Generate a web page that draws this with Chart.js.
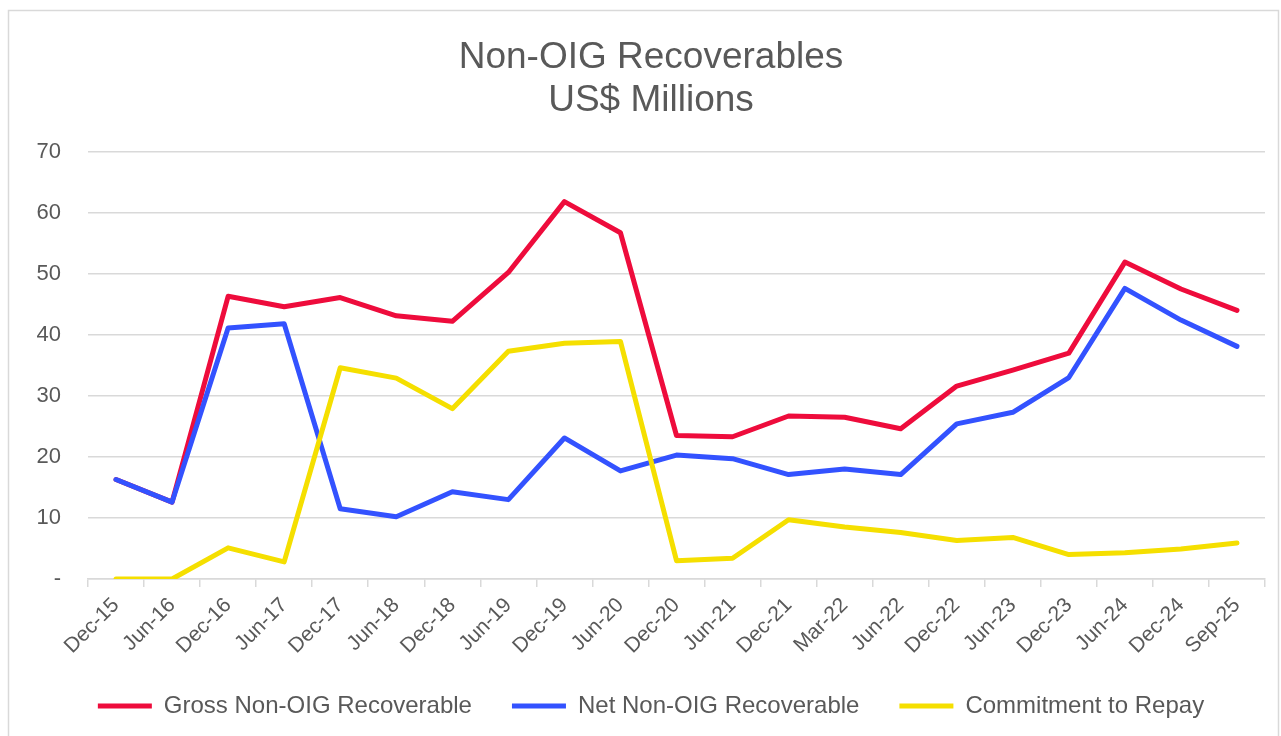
<!DOCTYPE html>
<html lang="en">
<head>
  <meta charset="UTF-8">
  <title>Non-OIG Recoverables</title>
  <script src="https://cdn.jsdelivr.net/npm/chart.js"></script>
  <style>
    /* full window canvas */
    body {
      margin: 0;
      background: #ffffff;
      font-family: "Liberation Sans", Arial, sans-serif;
    }
    .chart-container {
      width: 1281px;
      height: 736px;
    }
  </style>
</head>
<body>

  <div class="chart-container">
    <canvas id="recoverablesChart"></canvas>
  </div>

  <script>
    // Data (US$ millions)
    const periods = ['Dec-15', 'Jun-16', 'Dec-16', 'Jun-17', 'Dec-17', 'Jun-18', 'Dec-18', 'Jun-19',
      'Dec-19', 'Jun-20', 'Dec-20', 'Jun-21', 'Dec-21', 'Mar-22', 'Jun-22', 'Dec-22', 'Jun-23',
      'Dec-23', 'Jun-24', 'Dec-24', 'Sep-25'];
    const grossRecoverable = [16.3, 12.6, 46.3, 44.6, 46.1, 43.1, 42.2, 50.2, 61.8, 56.7, 23.5,
      23.3, 26.7, 26.5, 24.6, 31.6, 34.2, 37.0, 51.9, 47.5, 44.0];
    const netRecoverable = [16.3, 12.6, 41.1, 41.8, 11.5, 10.2, 14.3, 13.0, 23.1, 17.7, 20.3,
      19.7, 17.1, 18.0, 17.1, 25.4, 27.3, 33.0, 47.6, 42.4, 38.1];
    const commitmentToRepay = [0, 0, 5.1, 2.8, 34.6, 32.9, 27.9, 37.3, 38.6, 38.9, 3.0,
      3.4, 9.7, 8.5, 7.6, 6.3, 6.8, 4.0, 4.3, 4.9, 5.9];
    const yTicks = [0, 10, 20, 30, 40, 50, 60, 70];

    const textColor = '#595959';
    const gridColor = '#d9d9d9';
    const fontFamily = '"Liberation Sans", Arial, sans-serif';

    // thin grey frame like the Excel chart border
    const framePlugin = {
      id: 'frame',
      afterDraw(chart) {
        const ctx = chart.ctx;
        ctx.save();
        ctx.strokeStyle = gridColor;
        ctx.lineWidth = 1.5;
        ctx.strokeRect(8.5, 10.5, 1270, 740);
        ctx.restore();
      }
    };

    function series(label, data, color, order) {
      return {
        label: label,
        data: data,
        borderColor: color,
        backgroundColor: color,
        borderWidth: 5,
        borderJoinStyle: 'round',
        borderCapStyle: 'round',
        pointRadius: 0,
        tension: 0,
        order: order
      };
    }

    const ctx = document.getElementById('recoverablesChart').getContext('2d');
    new Chart(ctx, {
      type: 'line',
      data: {
        labels: periods,
        datasets: [
          series('Gross Non-OIG Recoverable', grossRecoverable, '#ee0c3c', 3),
          series('Net Non-OIG Recoverable', netRecoverable, '#3352ff', 2),
          series('Commitment to Repay', commitmentToRepay, '#f5df00', 1)
        ]
      },
      options: {
        responsive: true,
        maintainAspectRatio: false,
        animation: false,
        layout: {
          padding: { left: 37, right: 16, top: 0, bottom: 8 }
        },
        scales: {
          x: {
            offset: true,
            grid: {
              offset: true,
              drawOnChartArea: false,
              drawTicks: true,
              tickLength: 8,
              color: gridColor,
              lineWidth: 1.5
            },
            border: { display: true, color: gridColor, width: 1.5 },
            ticks: {
              color: textColor,
              font: { family: fontFamily, size: 21 },
              minRotation: 45,
              maxRotation: 45,
              autoSkip: false,
              padding: 6
            },
            afterFit(scale) {
              scale.height = 75;
            }
          },
          y: {
            min: 0,
            max: 70,
            afterBuildTicks(scale) {
              scale.ticks = yTicks.map(v => ({ value: v }));
            },
            grid: { color: gridColor, lineWidth: 1.5, drawTicks: false },
            border: { display: false },
            ticks: {
              color: textColor,
              font: { family: fontFamily, size: 22 },
              padding: 27,
              callback: v => (v === 0 ? '-' : v)
            },
            afterFit(scale) {
              scale.width = 51;
            }
          }
        },
        plugins: {
          title: {
            display: true,
            text: ['Non-OIG Recoverables', 'US$ Millions'],
            color: textColor,
            font: { family: fontFamily, size: 37, weight: 'normal', lineHeight: 1.17 },
            padding: { top: 36, bottom: 29 }
          },
          legend: {
            position: 'bottom',
            labels: {
              color: textColor,
              font: { family: fontFamily, size: 24 },
              usePointStyle: true,
              pointStyle: 'line',
              pointStyleWidth: 54,
              padding: 40,
              sort: (a, b) => a.datasetIndex - b.datasetIndex
            }
          },
          tooltip: { enabled: false }
        }
      },
      plugins: [framePlugin]
    });
  </script>

</body>
</html>
